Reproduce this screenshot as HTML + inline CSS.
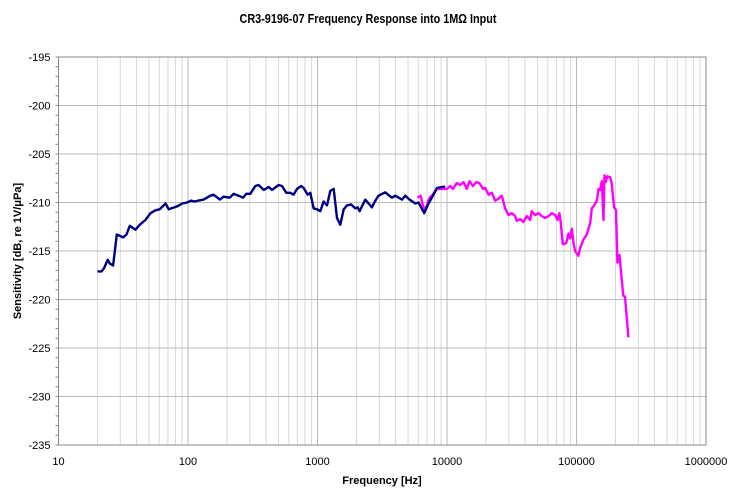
<!DOCTYPE html>
<html><head><meta charset="utf-8"><style>
html,body{margin:0;padding:0;background:#fff;}
svg{display:block;font-family:"Liberation Sans",Arial,sans-serif;}
</style></head><body>
<svg id="chart" width="734" height="494" viewBox="0 0 734 494">
<text x="368" y="23" text-anchor="middle" font-size="13" font-weight="bold" textLength="257" lengthAdjust="spacingAndGlyphs">CR3-9196-07 Frequency Response into 1MΩ Input</text>
<g id="grid"></g>
<g id="axes"></g>
<g id="series"></g>
<text x="382" y="484" text-anchor="middle" font-size="11" font-weight="bold">Frequency [Hz]</text>
<text transform="translate(21,251) rotate(-90)" text-anchor="middle" font-size="11" font-weight="bold">Sensitivity [dB, re 1V/μPa]</text>
</svg>
<script>
const yTicks = [-195,-200,-205,-210,-215,-220,-225,-230,-235];
const xTicks = [10,100,1000,10000,100000,1000000];
const blueFreq = [20,21.5,22.6,24,24.9,26.4,28.2,31.6,33.5,35.5,39.3,42.4,46.9,51.3,56,60.5,67,71,82.4,90,98,106,111,132,149,158,176,188,210,225,246,266,282,303,331,351,384,420,446,501,532,574,617,654,695,750,782,839,880,933,991,1051,1115,1184,1256,1333,1414,1500,1592,1689,1813,1958,2040,2113,2340,2630,2800,2960,3330,3755,3985,4490,4755,5140,5690,6030,6670,7200,7870,8360,9140,9690];
const blueDb = [-217.1,-217.1,-216.7,-215.9,-216.3,-216.5,-213.3,-213.6,-213.3,-212.4,-212.8,-212.3,-211.8,-211.1,-210.8,-210.7,-210.1,-210.7,-210.4,-210.1,-210.0,-209.8,-209.9,-209.7,-209.3,-209.2,-209.7,-209.4,-209.5,-209.1,-209.3,-209.5,-209.1,-209.1,-208.3,-208.2,-208.7,-208.4,-208.7,-208.2,-208.3,-209.0,-209.0,-209.2,-208.6,-208.3,-208.5,-209.2,-209.0,-210.6,-210.7,-210.9,-209.9,-210.3,-208.8,-208.6,-211.6,-212.3,-210.7,-210.3,-210.2,-210.6,-210.5,-210.9,-209.7,-210.5,-209.8,-209.3,-208.95,-209.5,-209.3,-209.7,-209.3,-209.7,-210.1,-210.0,-211.1,-210.1,-209.2,-208.5,-208.4,-208.35];
const pinkFreq = [5920,6250,6510,6790,7330,7640,8360,9140,9980,10590,11100,11900,12640,13400,14220,14920,15840,16800,17830,18920,19720,20900,22190,23550,24970,26500,28100,29830,31660,33590,34580,36700,38950,41300,43860,45190,47900,50800,53960,57260,60770,64500,68430,71300,73800,75500,78350,83200,86700,89300,92000,94700,97500,103500,106600,113200,120100,127500,131300,135400,143600,147900,152200,156800,161500,164400,168000,172900,181500,187000,195000,202000,207000,214500,223500,230000,237000,251600];
const pinkDb = [-209.5,-209.3,-210.3,-210.8,-209.5,-209.3,-208.6,-208.6,-208.6,-208.3,-208.6,-208.0,-208.2,-207.9,-208.6,-207.8,-208.3,-207.9,-208.0,-208.6,-208.5,-209.2,-209.0,-209.8,-209.6,-209.3,-210.6,-211.3,-211.1,-211.4,-211.9,-211.7,-212.0,-211.4,-211.8,-210.9,-211.3,-211.1,-211.4,-211.6,-211.4,-211.1,-211.3,-211.8,-211.1,-212.0,-214.3,-214.2,-213.2,-213.7,-212.7,-214.1,-215.0,-215.5,-214.7,-213.8,-213.3,-212.1,-210.6,-210.4,-209.8,-208.6,-208.7,-207.8,-211.8,-207.2,-207.9,-207.3,-207.4,-208.0,-210.5,-210.8,-216.2,-215.4,-217.9,-219.6,-219.7,-223.9];

const L=58.5,R=706,T=57,B=445;
const NS='http://www.w3.org/2000/svg';
const xS=f=>L+(Math.log10(f)-1)/5*(R-L);
const yS=d=>T+(-195-d)/40*(B-T);
function mk(tag,attrs,parent){const e=document.createElementNS(NS,tag);for(const k in attrs)e.setAttribute(k,attrs[k]);parent.appendChild(e);return e;}
const grid=document.getElementById('grid'),axes=document.getElementById('axes'),series=document.getElementById('series');
for(let dec=1;dec<6;dec++){for(let m=1;m<=9;m++){const f=m*Math.pow(10,dec);const x=xS(f);if(m===1&&dec===1)continue;
const ln=mk('line',{x1:x,x2:x,y1:T,y2:B,stroke:m===1?'#b8b8b8':'#d8d8d8','stroke-width':1},grid);

}}
yTicks.forEach(v=>{const y=yS(v);
const ln=mk('line',{x1:L,x2:R,y1:y,y2:y,stroke:'#bdbdbd','stroke-width':1},grid);


const t=mk('text',{x:L-8,y:y+4,'text-anchor':'end','font-size':11},axes);t.textContent=v;

});
for(let d=-195;d>=-235;d--){const y=yS(d);mk('line',{x1:L-3,x2:L,y1:y,y2:y,stroke:'#888','stroke-width':1},axes);}
xTicks.forEach(v=>{const x=xS(v);
const t=mk('text',{x:x,y:B+20,'text-anchor':'middle','font-size':11},axes);t.textContent=v;

});
const frame=mk('rect',{x:L,y:T,width:R-L,height:B-T,fill:'none',stroke:'#888','stroke-width':1},axes);


function line(fs,ds,color,name){const p=fs.map((f,i)=>(i?'L':'M')+xS(f).toFixed(1)+','+yS(ds[i]).toFixed(1)).join('');
const e=mk('path',{d:p,fill:'none',stroke:color,'stroke-width':2.4,'stroke-linejoin':'round'},series);

}
line(pinkFreq,pinkDb,'#ff00ff','high-frequency-series-line');
line(blueFreq,blueDb,'#000080','low-frequency-series-line');
</script>
</body></html>
